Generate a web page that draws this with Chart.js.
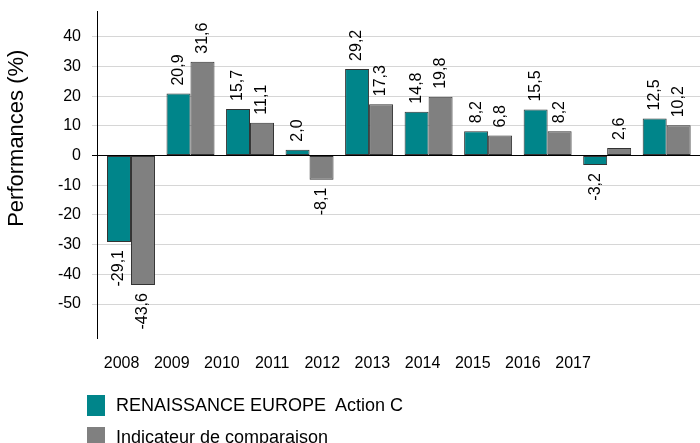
<!DOCTYPE html>
<html>
<head>
<meta charset="utf-8">
<script src="https://cdn.jsdelivr.net/npm/chart.js@4.4.1/dist/chart.umd.min.js"></script>
<style>
  body { margin: 0; background: #fff; }
  #wrap { position: relative; width: 700px; height: 443px; }
  #legend { position: absolute; left: 87px; top: 390px; font: 18px "Liberation Sans", Arial, sans-serif; color: #000; }
  #legend .item { display: flex; align-items: center; height: 31.7px; }
  #legend .box { width: 18px; height: 21px; margin-right: 11px; }
</style>
</head>
<body>
<div id="wrap">
  <canvas id="perfChart" width="700" height="443"></canvas>
  <div id="legend"></div>
</div>
<script>
var years = ['2008', '2009', '2010', '2011', '2012', '2013', '2014', '2015', '2016', '2017'];
var renaissance = [-29.1, 20.9, 15.7, 2.0, 29.2, 14.8, 8.2, 15.5, -3.2, 12.5];
var indicateur = [-43.6, 31.6, 11.1, -8.1, 17.3, 19.8, 6.8, 8.2, 2.6, 10.2];
var yTicks = [-50, -40, -30, -20, -10, 0, 10, 20, 30, 40];

Chart.defaults.font.family = '"Liberation Sans", Arial, sans-serif';
Chart.defaults.color = '#000';

// etiquettes verticales au bout des barres
var valueLabels = {
    id: 'valueLabels',
    afterDatasetsDraw: function(chart) {
        var ctx = chart.ctx;
        ctx.save();
        ctx.font = '16px "Liberation Sans", Arial, sans-serif';
        ctx.fillStyle = '#000';
        ctx.textBaseline = 'middle';
        chart.data.datasets.forEach(function(ds, di) {
            chart.getDatasetMeta(di).data.forEach(function(bar, i) {
                var v = ds.data[i].y;
                ctx.save();
                ctx.translate(bar.x, v >= 0 ? bar.y - 8 : bar.y + 8);
                ctx.rotate(-Math.PI / 2);
                ctx.textAlign = v >= 0 ? 'left' : 'right';
                ctx.fillText(v.toFixed(1).replace('.', ','), 0, 0);
                ctx.restore();
            });
        });
        ctx.restore();
    }
};

var ctx = document.getElementById('perfChart').getContext('2d');
var chart = new Chart(ctx, {
    type: 'bar',
    data: {
        datasets: [{
            label: 'RENAISSANCE EUROPE  Action C',
            data: renaissance.map(function(v, i) { return {x: i, y: v}; }),
            backgroundColor: '#00858a',
            borderColor: '#333333',
            borderWidth: 1,
            borderSkipped: false,
            categoryPercentage: 0.806,
            barPercentage: 1
        }, {
            label: 'Indicateur de comparaison',
            data: indicateur.map(function(v, i) { return {x: i, y: v}; }),
            backgroundColor: '#808080',
            borderColor: '#333333',
            borderWidth: 1,
            borderSkipped: false,
            categoryPercentage: 0.806,
            barPercentage: 1
        }]
    },
    options: {
        responsive: false,
        animation: false,
        layout: { padding: { top: 11, right: 0, bottom: 55, left: 0 } },
        plugins: {
            legend: { display: false },
            tooltip: { enabled: false }
        },
        scales: {
            x: {
                type: 'linear',
                display: false,
                offset: false,
                min: -0.571,
                max: 9.56
            },
            years: {
                type: 'linear',
                axis: 'x',
                position: 'bottom',
                offset: false,
                min: 2007.51,
                max: 2019.53,
                afterBuildTicks: function(scale) {
                    scale.ticks = years.map(function(y) { return {value: Number(y)}; });
                },
                grid: { display: false, drawTicks: false },
                border: { display: false },
                ticks: {
                    font: { size: 16 },
                    padding: 15,
                    maxRotation: 0,
                    autoSkip: false,
                    callback: function(value) { return String(value); }
                }
            },
            y: {
                min: -61.7,
                max: 48.7,
                afterBuildTicks: function(scale) {
                    scale.ticks = yTicks.map(function(v) { return {value: v}; });
                },
                afterFit: function(scale) {
                    scale.width = 97;
                    scale.paddingTop = 0;
                    scale.paddingBottom = 0;
                },
                grid: {
                    color: function(c) { return c.tick && c.tick.value === 0 ? '#000000' : '#d6d6d6'; },
                    lineWidth: 1,
                    tickLength: 5
                },
                border: { display: true, color: '#000000', width: 1 },
                ticks: {
                    font: { size: 16 },
                    padding: 11
                },
                title: {
                    display: true,
                    text: '            Performances (%)',
                    font: { size: 22 },
                    padding: { top: 4, bottom: 0 }
                }
            }
        }
    },
    plugins: [valueLabels]
});

// légende en HTML, une ligne par série
var legend = document.getElementById('legend');
chart.data.datasets.forEach(function(ds) {
    var item = document.createElement('div');
    item.className = 'item';
    var box = document.createElement('span');
    box.className = 'box';
    box.style.background = ds.backgroundColor;
    var txt = document.createElement('span');
    txt.textContent = ds.label;
    txt.style.whiteSpace = 'pre';
    item.appendChild(box);
    item.appendChild(txt);
    legend.appendChild(item);
});
</script>
</body>
</html>
